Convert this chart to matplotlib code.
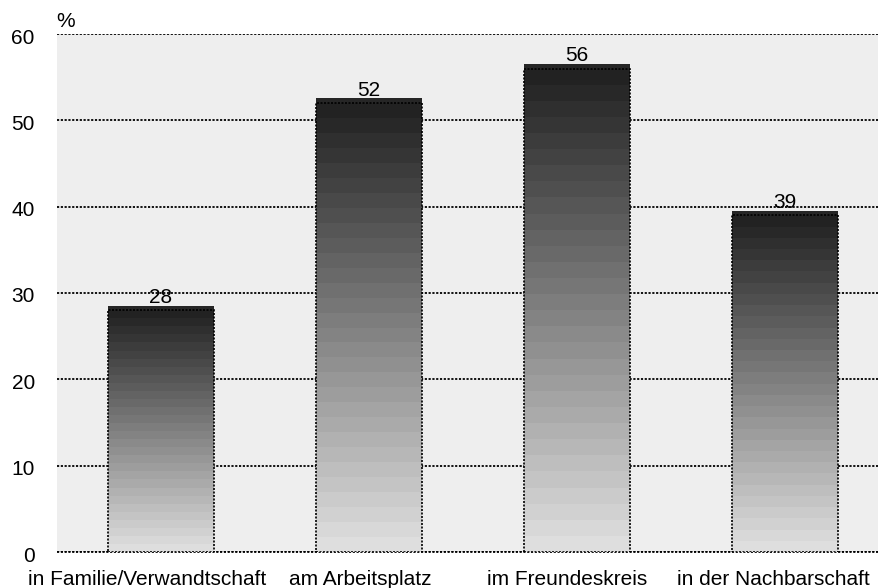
import numpy as np
import matplotlib.pyplot as plt
import matplotlib.colors as mcolors
from matplotlib.transforms import ScaledTranslation

plt.rcParams['font.family'] = ['Liberation Sans', 'DejaVu Sans']

categories = ["in Familie/Verwandtschaft", "am Arbeitsplatz", "im Freundeskreis", "in der Nachbarschaft"]
values = [28, 52, 56, 39]
yticks = [0, 10, 20, 30, 40, 50, 60]

n_bands = 30
cap = 0.55
bar_w = 0.505
fs = 15
dots = (0, (1.2, 0.9))

fig = plt.figure(figsize=(8.79, 5.88), dpi=100)
ax = fig.add_axes([57 / 879, 1 - 552 / 588, 1 - 57 / 879, (552 - 34) / 588])
ax.set_facecolor('#eeeeee')

x = np.arange(len(categories))
dark = np.array(mcolors.to_rgb('#222222'))
light = np.array(mcolors.to_rgb('#dedede'))

for xi, v in zip(x, values):
    # striped gradient, light at the bottom and dark at the top
    edges = np.linspace(0, v, n_bands + 1)
    for i in range(n_bands):
        t = i / (n_bands - 1)
        col = light + (dark - light) * t
        ax.bar(xi, edges[i + 1] - edges[i], bottom=edges[i], width=bar_w,
               color=col, linewidth=0, zorder=3)
    ax.bar(xi, cap, bottom=v, width=bar_w, color='#262626', linewidth=0, zorder=3)
    ax.bar(xi, v, width=bar_w, fill=False, edgecolor='black', linestyle=dots,
           linewidth=1.2, zorder=4)
    ax.annotate(str(v), (xi, v + cap), xytext=(0, 2), textcoords='offset points',
                ha='center', va='baseline', fontsize=fs, zorder=5)

ax.set_ylim(0, 60)
ax.set_xlim(-0.5, -0.5 + 822 / 208)
ax.set_yticks(yticks)
ax.set_yticklabels([str(t) for t in yticks], fontsize=fs)
ax.set_xticks(x)
ax.set_xticklabels(categories, fontsize=fs)
ax.tick_params(axis='both', length=0)
ax.tick_params(axis='y', pad=16)
ax.tick_params(axis='x', pad=13)
ax.yaxis.grid(True, color='black', linestyle=dots, linewidth=1.3, zorder=1)
ax.set_axisbelow(True)
for s in ax.spines.values():
    s.set_visible(False)
ax.axhline(0, color='black', linestyle=dots, linewidth=1.3, zorder=2, clip_on=False)

for lab in ax.get_yticklabels():
    lab.set_transform(lab.get_transform() + ScaledTranslation(0, -2 / 100, fig.dpi_scale_trans))

# category labels sit a little left of the bar centres
fig.canvas.draw()
renderer = fig.canvas.get_renderer()
for lab in ax.get_xticklabels():
    w = lab.get_window_extent(renderer).width
    lab.set_transform(lab.get_transform() + ScaledTranslation(-0.06 * w / 100, 0, fig.dpi_scale_trans))

fig.text(56 / 879, 1 - 27 / 588, '%', fontsize=fs, ha='left', va='baseline')

fig.savefig('out.png', dpi=100)
